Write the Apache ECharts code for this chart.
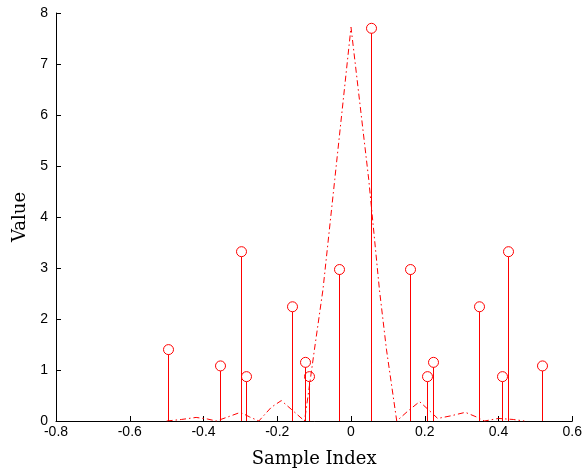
<!DOCTYPE html>
<html>
<head>
<meta charset="utf-8">
<script src="https://cdn.jsdelivr.net/npm/echarts@6/dist/echarts.min.js"></script>
<style>html,body{margin:0;padding:0;background:#fff}#c{width:585px;height:473px}</style>
</head>
<body>
<div id="c"></div>
<script>
var stemX = [-0.497, -0.356, -0.298, -0.285, -0.159, -0.124, -0.113, -0.033, 0.055, 0.161, 0.207, 0.222, 0.348, 0.410, 0.426, 0.519];
var stemY = [1.40, 1.08, 3.32, 0.87, 2.24, 1.15, 0.87, 2.97, 7.70, 2.97, 0.87, 1.15, 2.24, 0.87, 3.32, 1.08];
var curveX = [-0.50, -0.46, -0.42, -0.39, -0.365, -0.33, -0.30, -0.275, -0.25, -0.216, -0.189, -0.162, -0.126, -0.099, -0.076, -0.044, 0.0, 0.048, 0.077, 0.096, 0.124, 0.155, 0.186, 0.213, 0.235, 0.27, 0.31, 0.34, 0.362, 0.40, 0.44, 0.47];
var curveY = [0.0, 0.03, 0.07, 0.04, 0.0, 0.09, 0.17, 0.08, 0.0, 0.27, 0.40, 0.23, 0.0, 1.41, 2.58, 4.74, 7.72, 4.74, 2.58, 1.41, 0.0, 0.2, 0.38, 0.2, 0.05, 0.1, 0.17, 0.08, 0.0, 0.05, 0.03, 0.0];
var xTicks = [-0.8, -0.6, -0.4, -0.2, 0, 0.2, 0.4, 0.6];
var yTicks = [0, 1, 2, 3, 4, 5, 6, 7, 8];

var chart = echarts.init(document.getElementById('c'), null, {renderer: 'canvas'});
var stemData = stemX.map(function (x, i) { return [x, stemY[i]]; });
var curveData = curveX.map(function (x, i) { return [x, curveY[i]]; });
var red = '#ff0000';
var labelFont = {color: '#000', fontFamily: 'Liberation Sans, Arial, sans-serif', fontSize: 14};

chart.setOption({
  animation: false,
  backgroundColor: '#fff',
  color: [red, red],
  grid: {left: 56, right: 12, top: 13, bottom: 47, containLabel: false},
  xAxis: {
    type: 'value',
    min: xTicks[0], max: xTicks[xTicks.length - 1], interval: 0.2,
    name: 'Sample Index', nameLocation: 'middle', nameGap: 29,
    nameTextStyle: {fontFamily: 'DejaVu Serif, serif', fontSize: 18, color: '#000'},
    axisLine: {onZero: false, lineStyle: {color: '#000', width: 1}},
    axisTick: {inside: true, length: 5, lineStyle: {color: '#000'}},
    axisLabel: Object.assign({margin: 4, formatter: function (v) { return String(+v.toFixed(1)); }}, labelFont),
    splitLine: {show: false}
  },
  yAxis: {
    type: 'value',
    min: yTicks[0], max: yTicks[yTicks.length - 1], interval: 1,
    name: 'Value', nameLocation: 'middle', nameGap: 25,
    nameTextStyle: {fontFamily: 'DejaVu Serif, serif', fontSize: 18, color: '#000'},
    axisLine: {show: true, onZero: false, lineStyle: {color: '#000', width: 1}},
    axisTick: {show: true, inside: true, length: 5, lineStyle: {color: '#000'}},
    axisLabel: Object.assign({margin: 8}, labelFont),
    splitLine: {show: false}
  },
  series: [
    {
      type: 'line',
      data: curveData,
      showSymbol: false,
      symbol: 'none',
      itemStyle: {color: red},
      lineStyle: {color: red, width: 1, type: [6, 3, 1.5, 3]},
      z: 3
    },
    {
      type: 'custom',
      data: stemData,
      itemStyle: {color: red},
      z: 4,
      renderItem: function (params, api) {
        var x = api.value(0), y = api.value(1);
        var base = api.coord([x, 0]);
        var top = api.coord([x, y]);
        var px = Math.round(base[0]) + 0.5;
        return {
          type: 'group',
          children: [
            {type: 'rect', shape: {x: Math.round(base[0]), y: top[1] + 5, width: 1, height: base[1] - top[1] - 5}, style: {fill: red, stroke: null}},
            {type: 'circle', shape: {cx: px, cy: top[1], r: 5}, style: {stroke: red, fill: null, lineWidth: 1}}
          ]
        };
      }
    }
  ]
});
</script>
</body>
</html>
